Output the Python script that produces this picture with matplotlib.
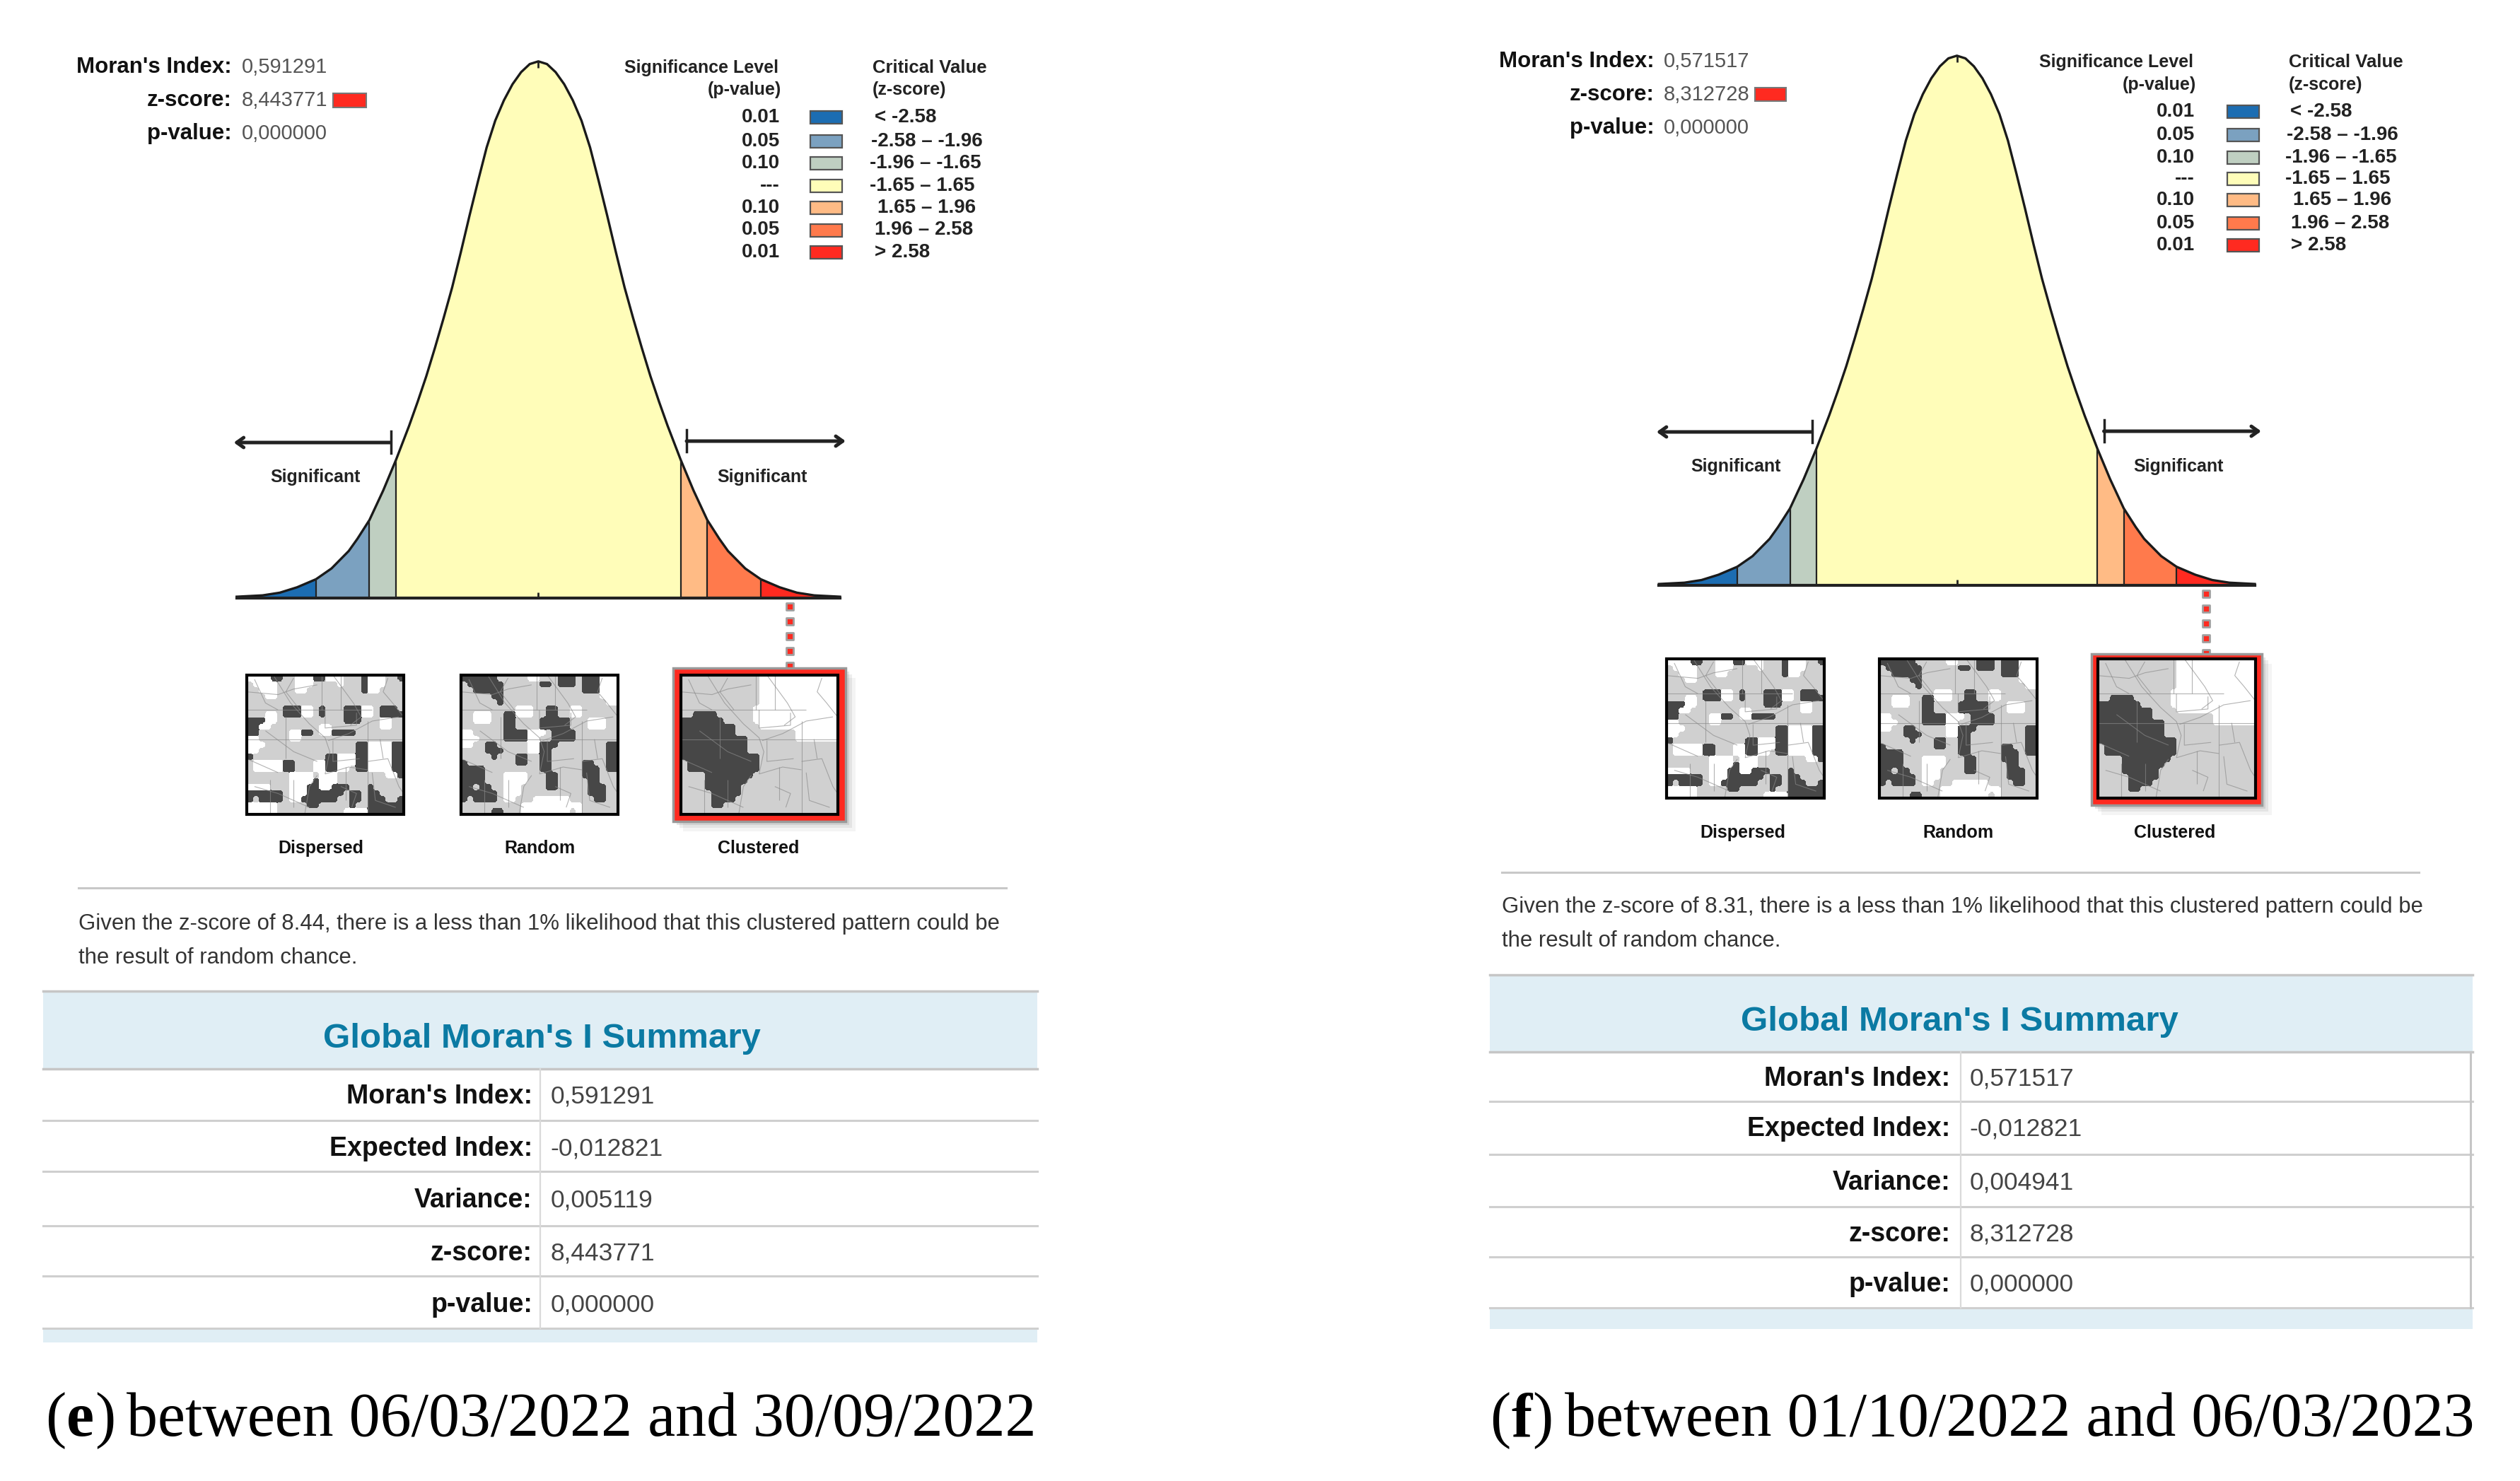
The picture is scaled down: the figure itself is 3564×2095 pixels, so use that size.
import matplotlib
matplotlib.use("Agg")
import matplotlib.pyplot as plt
from matplotlib.colors import ListedColormap
from matplotlib.patches import Rectangle
import numpy as np

# ---------- data ----------
bell_z = [-3.5,-3.2,-3.0,-2.8,-2.58,-2.4,-2.2,-2.1,-1.96,-1.8,-1.65,-1.5,-1.4,-1.3,-1.2,-1.1,-1.0,-0.9,-0.8,-0.7,-0.6,-0.5,-0.4,-0.3,-0.2,-0.1,0.0,
          0.1,0.2,0.3,0.4,0.5,0.6,0.7,0.8,0.9,1.0,1.1,1.2,1.3,1.4,1.5,1.65,1.8,1.96,2.1,2.2,2.4,2.58,2.8,3.0,3.2,3.5]
bell_h = [.001,.002,.004,.008,.014,.022,.035,.044,.058,.080,.103,.128,.146,.165,.186,.208,.231,.257,.284,.310,.335,.355,.370,.382,.391,.397,.399,
          .397,.391,.382,.370,.355,.335,.310,.284,.257,.231,.208,.186,.165,.146,.128,.103,.080,.058,.044,.035,.022,.014,.008,.004,.002,.001]
band_edges = [-3.5,-2.58,-1.96,-1.65,1.65,1.96,2.58,3.5]
band_colors = ['#1C6DB2','#7BA1C0','#BFCFC1','#FFFDB9','#FFBB85','#FF7A4C','#FF2A20']
sig_levels = ['0.01','0.05','0.10','---','0.10','0.05','0.01']
crit_values = ['< -2.58','-2.58 – -1.96','-1.96 – -1.65','-1.65 – 1.65','1.65 – 1.96','1.96 – 2.58','> 2.58']
pattern_names = ['Dispersed','Random','Clustered']
row_names = ["Moran's Index:",'Expected Index:','Variance:','z-score:','p-value:']
values_e = ['0,591291','-0,012821','0,005119','8,443771','0,000000']
values_f = ['0,571517','-0,012821','0,004941','8,312728','0,000000']
para_e = ['Given the z-score of 8.44, there is a less than 1% likelihood that this clustered pattern could be','the result of random chance.']
para_f = ['Given the z-score of 8.31, there is a less than 1% likelihood that this clustered pattern could be','the result of random chance.']
table_title = "Global Moran's I Summary"
caption_e = ('e', 'between 06/03/2022 and 30/09/2022')
caption_f = ('f', 'between 01/10/2022 and 06/03/2023')

map_dispersed = [
 "WWWWDD..WWWDDWWW...DWWW..D",".WWWW...WWW....W...DWWW...","..WWW...WW.........DWW....","...WW","",
 "......DDDWW.D...DDDWW.DDD.","...WW.DDDWW.D...DDDWW.DDDD","DDDWW...........DDD...WW","DDWW........WW........WW",
 "DD.....WWDD.WWDDDD","WW.....WW","WWW...............DDWWWWDD","WW................DDWWWWDD",
 "D............DDWWWDDWWWWDD",".WWWWWDD...WWDDWWWDDWWWWDD",".WWWWWDD...WWDDWW.DDWWWWDD",
 ".......WWWW.WWW........WWD",".......WWWWDWWW","WWWW...WWWDDWWDDD...D",
 "DDDDDD.WWWDDDDDD.DD.DD","D.DDDD.WWDDDDDD..DD.DDD..D","WWWWW.....DD.....D..DDDDDD","WWWWW...........WWWWDDDDDD"]
map_random = [
 "DDDDDD.....WW...DDD.DDDWWW",".DDDDDD......DD.DDD.DDDWWW","..DDDDD.............DDDWWW",".....DD................WWW","......D.................WW",
 ".........WWW..DD..WW","..WWW..DDWWW..DD..WW","..WWW..DD....DDDDD...WWW",".......DD....DDDDD...WWW",
 "WW.....DDDDWWW.DDDD","WWW....DDDDWW..DDDD","WW..DD.....WWDDD........DD","....DDD....WWDD.........DD",
 ".....D...DD..DD.........DD","D........DD..DD.....DD..DD","DDDD.........DD.....DDD.DD",
 "DDDD...WWWW...DD....DDD","DDDD...WWWW...DD.....DD","DD.DD..WWW....DD.....DDD",
 "DDDDDD.WWW...........DDD","D.DDDD.WW...WWWWWW....DD","..........WWWWWWWWWW",".....DD...WWWWWWWW.W"]
map_clustered = [
 ".............WWWWWWWWWWWWW",".............WWWWWWWWWWWWW",".............WWWWWWWWWWWWW",".............WWWWWWWWWWWWW",".............WWWWWWWWWWWWW",
 "............WWWWWWWWWWWWWW","..DDDD......WWWWWWWWWWWWWW","DDDDDDD.....WWWWWWWWWWWWWW","DDDDDDDDD....WWWWWWWWWWWWW",
 "DDDDDDDDD..........WWWWWWW","DDDDDDDDDDD........WWWWWWW","DDDDDDDDDDD","DDDDDDDDDDD",
 "DDDDDDDDDDDDD",".DDDDDDDDDDDD",".DDDDDDDDDDDD","....DDDDDDDD","....DDDDDDD",
 "....DDDDDD",".....DDDDD",".....DDDD",".....DD",""]
map_lines = [
 [(.17,0),(.28,.2),(.4,.35),(.5,.45),(.53,.55),(.5,.71)],
 [(.97,.3),(.8,.33),(.65,.42),(.52,.47)],
 [(.5,.71),(.65,.66),(.77,.68)],
 [(.63,.66),(.63,.9)],
 [(.45,.72),(.4,.8),(.37,1)],
 [(0,.12),(.2,.14),(.3,.1),(.45,.07)],
 [(0,.25),(.8,.25)],
 [(0,.46),(1,.46)],
 [(.48,0),(.48,.25)],
 [(.6,0),(.6,.25)],
 [(.77,.33),(.77,1)],
 [(.77,.62),(.9,.6),(.97,.8),(1,.85)],
 [(0,.6),(.2,.7)],
 [(.05,.8),(.2,.85),(.4,.95)],
 [(.25,.3),(.25,.6)],
 [(.12,.4),(.3,.55),(.45,.62)],
 [(.55,0),(.68,.2),(.73,.3),(.66,.36)],
 [(.9,.02),(.87,.12),(.93,.2),(1,.3)],
 [(.5,.25),(.5,.38),(.7,.36),(.7,.27)],
 [(.55,.47),(.55,.62),(.72,.6)],
 [(.85,.46),(.87,.6)],
 [(.8,.7),(.82,.9),(.95,.95)],
 [(.6,.8),(.7,.85),(.67,.95)],
 [(.3,.02),(.25,.12),(.34,.25)],
 [(.05,.03),(.12,.2),(.2,.25)],
 [(.15,.75),(.15,1)],
 [(.3,.75),(.3,.95)],
]

# ---------- layout (pixels) ----------
E = dict(z0=761.4, base=846, peak=86.8, zs=121.9, stat_y=[94.7,141.5,189.2], stat_r=327.6, stat_v=341.6, swatch=(471,131.5,47,20),
         sig_r=1100.7, crit_l=1234, head_y=[95.7,127], rows=[166.4,200.2,231,262.9,293.7,325.5,357.4], leg_r=1102.7, leg_s=(1146.4,45),
         crit_x=[1237,1232,1230,1230,1241,1237,1237], arrL=(330.6,552.5,626), arrR=(971,1196,624), rand=(765.4,629),
         sig=(446,1078,674.7), dot_x=1116.6, dot_end=945,
         maps=[(348.8,955),(652,955),(962.6,955)], mw=222, mh=197, red=(951.6,945,244,217), lab_y=1200, lab_x=[454,763.6,1073],
         rule=(110.6,1423,1255.9), para_x=110.6, para_y=[1306.5,1355.2], head=(61,1466.7,1402,1511.6), title=(766,1469),
         lines=[1585,1656.9,1733.5,1805,1878.7], band=1898.6, col=764, ry=[1551.4,1625,1697.7,1773.3,1845.9], lab_r=753, val_l=778.2,
         cap=(63.9,2000.2), border=False)
F = dict(z0=2767.6, base=828, peak=78.8, zs=120.4, stat_y=[86.8,133.5,181.3], stat_r=2339.8, stat_v=2352.7, swatch=(2482,123.6,44,19),
         sig_r=3102, crit_l=3237, head_y=[87.8,119.6], rows=[158.4,191.2,223,252.9,282.8,315.6,347.4], leg_r=3104, leg_s=(3150,45),
         crit_x=[3239,3234,3232,3232,3243,3240,3240], arrL=(2342.8,2562.6,611), arrR=(2975.5,3198,610), rand=(2774.5,614),
         sig=(2455,3081,659.8), dot_x=3119.8, dot_end=925,
         maps=[(2356.7,932),(2658,932),(2966.6,932)], mw=223, mh=197, red=(2957.6,925,241,214), lab_y=1178, lab_x=[2465,2769.6,3076],
         rule=(2123.8,3421,1234), para_x=2123.8, para_y=[1283.5,1331.2], head=(2107,3497,1379,1487.6), title=(2771.5,1446),
         lines=[1558,1632.9,1706.5,1778,1849.8], band=1879.6, col=2772.5, ry=[1526.4,1597,1672.7,1746.3,1817], lab_r=2758, val_l=2785.4,
         cap=(2107,2000.2), border=True)

W, H = 3564, 2095
fig = plt.figure(figsize=(W/100, H/100), dpi=100, facecolor='white')
ax = fig.add_axes([0, 0, 1, 1])
ax.set_xlim(0, W); ax.set_ylim(H, 0); ax.axis('off')

SANS = dict(family=['Liberation Sans'])
SERIF = ['Liberation Serif']
cmap = ListedColormap(['#D0D0D0', '#474747', '#FFFFFF'])
codes = {'.': 0, 'D': 1, 'W': 2}
UP = 8
BLUR = 5


def blur(a, n):
    k = np.ones(n) / n
    a = np.apply_along_axis(lambda v: np.convolve(np.pad(v, n, mode='edge'), k, mode='same')[n:-n], 0, a)
    return np.apply_along_axis(lambda v: np.convolve(np.pad(v, n, mode='edge'), k, mode='same')[n:-n], 1, a)


def grid(rows):
    g = np.array([[codes[c] for c in r.ljust(26, '.')[:26]] for r in rows])
    big = np.kron(g, np.ones((UP, UP), dtype=int))
    return np.argmax(np.stack([blur((big == c).astype(float), BLUR) for c in range(3)]), axis=0)


def draw_map(x, y, w, h, rows):
    ax.imshow(grid(rows), cmap=cmap, vmin=0, vmax=2, extent=(x, x+w, y+h, y), aspect='auto',
              interpolation='nearest', zorder=3)
    for pl in map_lines:
        px = [x + p[0]*w for p in pl]
        py = [y + p[1]*h for p in pl]
        ax.plot(px, py, color='#8A8A8A', lw=0.8, alpha=.65, zorder=4, solid_capstyle='butt')
    ax.add_patch(Rectangle((x, y), w, h, fill=False, ec='black', lw=3.0, zorder=5))


def draw_panel(L, values, para, capt):
    x0 = L['z0'] - 3.5*L['zs']; wpx = 7*L['zs']
    a = fig.add_axes([x0/W, 1-L['base']/H, wpx/W, (L['base']-L['peak'])/H])
    a.set_xlim(-3.5, 3.5); a.set_ylim(0, 0.399); a.axis('off'); a.patch.set_alpha(0)
    z = np.array(bell_z); d = np.array(bell_h)
    for i, c in enumerate(band_colors):
        m = (z >= band_edges[i]) & (z <= band_edges[i+1])
        a.fill_between(z[m], 0, d[m], color=c, lw=0)
    a.plot(z, d, color='#1A1A1A', lw=2.4, clip_on=False)
    for e in band_edges[1:-1]:
        a.vlines(e, 0, bell_h[bell_z.index(e)], color='#222222', lw=1.6)
    a.plot([-3.5, 3.5], [0, 0], color='#222222', lw=3, clip_on=False)
    a.vlines(0, 0, .004, color='#222222', lw=2)
    a.vlines(0, .394, .399, color='#222222', lw=2)

    for lab, i, v in zip(["Moran's Index:", 'z-score:', 'p-value:'], L['stat_y'], [values[0], values[3], values[4]]):
        ax.text(L['stat_r'], i, lab, ha='right', va='center', fontsize=22.5, fontweight='bold', color='#111111', **SANS)
        ax.text(L['stat_v'], i, v, ha='left', va='center', fontsize=21, color='#555555', **SANS)
    sx, sy, sw, sh = L['swatch']
    ax.add_patch(Rectangle((sx, sy), sw, sh, fc=band_colors[-1], ec='#777777', lw=1.5))

    hs = 18
    ax.text(L['sig_r'], L['head_y'][0], 'Significance Level', ha='right', va='center', fontsize=hs, fontweight='bold', color='#222222', **SANS)
    ax.text(L['sig_r']+4, L['head_y'][1], '(p-value)', ha='right', va='center', fontsize=hs, fontweight='bold', color='#222222', **SANS)
    ax.text(L['crit_l'], L['head_y'][0], 'Critical Value', ha='left', va='center', fontsize=hs+.5, fontweight='bold', color='#222222', **SANS)
    ax.text(L['crit_l'], L['head_y'][1], '(z-score)', ha='left', va='center', fontsize=hs, fontweight='bold', color='#222222', **SANS)
    for y, s, c, cx, col in zip(L['rows'], sig_levels, crit_values, L['crit_x'], band_colors):
        ax.text(L['leg_r'], y, s, ha='right', va='center', fontsize=20, fontweight='bold', color='#222222', **SANS)
        ax.add_patch(Rectangle((L['leg_s'][0], y-9), L['leg_s'][1], 18, fc=col, ec='#555555', lw=1.6))
        ax.text(cx, y, c, ha='left', va='center', fontsize=20, fontweight='bold', color='#222222', **SANS)

    arrow = dict(arrowstyle='->,head_width=.5,head_length=.7', lw=3.6, color='#222222', shrinkA=0, shrinkB=0)
    xa, xb, y = L['arrL']
    ax.annotate('', xy=(xa, y), xytext=(xb, y), arrowprops=arrow)
    ax.plot([xb, xb], [y-16, y+15], color='#222222', lw=2.5)
    xa, xb, y = L['arrR']
    ax.annotate('', xy=(xb, y), xytext=(xa, y), arrowprops=arrow)
    ax.plot([xa, xa], [y-16, y+15], color='#222222', lw=2.5)
    ax.text(*L['rand'], '(Random)', ha='center', va='center', fontsize=18, fontweight='bold', color='#222222', **SANS)
    for sx in L['sig'][:2]:
        ax.text(sx, L['sig'][2], 'Significant', ha='center', va='center', fontsize=18, fontweight='bold', color='#222222', **SANS)

    dots = np.arange(L['base']+12, L['dot_end'], 21)
    ax.scatter([L['dot_x']]*len(dots), dots, marker='s', s=60, c='#FF2A20', edgecolors='#A0A0A0', linewidths=2, zorder=2)

    rx, ry, rw, rh = L['red']
    for k, al in zip((14, 9, 5), (.08, .12, .18)):
        ax.add_patch(Rectangle((rx+k, ry+k), rw, rh, fc='#777777', ec='none', alpha=al, zorder=2))
    ax.add_patch(Rectangle((rx, ry), rw, rh, fc='#FF2A20', ec='#999999', lw=2.5, zorder=2.5))
    for (mx, my), g in zip(L['maps'], [map_dispersed, map_random, map_clustered]):
        draw_map(mx, my, L['mw'], L['mh'], g)
    for n, cx in zip(pattern_names, L['lab_x']):
        ax.text(cx, L['lab_y'], n, ha='center', va='center', fontsize=18, fontweight='bold', color='#111111', **SANS)

    xa, xb, y = L['rule']
    ax.plot([xa, xb], [y, y], color='#C8C8C8', lw=2.2)
    for t, y in zip(para, L['para_y']):
        ax.text(L['para_x'], y, t, ha='left', va='center', fontsize=22.4, color='#333333', **SANS)

    xa, xb, y0, y1 = L['head']
    ax.add_patch(Rectangle((xa, y0), xb-xa, y1-y0, fc='#E0EEF5', ec='none', zorder=1))
    ax.add_patch(Rectangle((xa, L['lines'][-1]), xb-xa, L['band']-L['lines'][-1], fc='#E0EEF5', ec='none', zorder=1))
    ax.plot([xa, xb], [y0, y0], color='#C6C6C6', lw=2.5, zorder=2)
    ax.plot([xa, xb], [y1, y1], color='#C6C6C6', lw=2.5, zorder=2)
    ax.text(*L['title'], table_title, ha='center', va='center', fontsize=35.5, fontweight='bold', color='#0B7AA3', **SANS)
    for y in L['lines']:
        ax.plot([xa, xb], [y, y], color='#CFCFCF', lw=2.2, zorder=2)
    ax.plot([L['col'], L['col']], [y1, L['lines'][-1]], color='#DADADA', lw=1.6, zorder=2)
    if L['border']:
        ax.plot([xb-3, xb-3], [y1, L['lines'][-1]], color='#C6C6C6', lw=2.2, zorder=2)
    for y, n, v in zip(L['ry'], row_names, values):
        ax.text(L['lab_r'], y, n, ha='right', va='center', fontsize=27, fontweight='bold', color='#111111', **SANS)
        ax.text(L['val_l'], y, v, ha='left', va='center', fontsize=25.5, color='#444444', **SANS)

    r = fig.canvas.get_renderer()
    x, y = L['cap']
    size = 63.3
    for part, w in (('(', 'normal'), (capt[0], 'bold'), (')', 'normal')):
        t = ax.text(x, y, part, ha='left', va='center_baseline', fontsize=size, fontweight=w, family=SERIF, color='black')
        x = t.get_window_extent(r).x1 + 1
    ax.text(x + 15, y, capt[1], ha='left', va='center_baseline', fontsize=size, family=SERIF, color='black')


draw_panel(E, values_e, para_e, caption_e)
draw_panel(F, values_f, para_f, caption_f)
fig.savefig('out.png', dpi=100, facecolor='white')
